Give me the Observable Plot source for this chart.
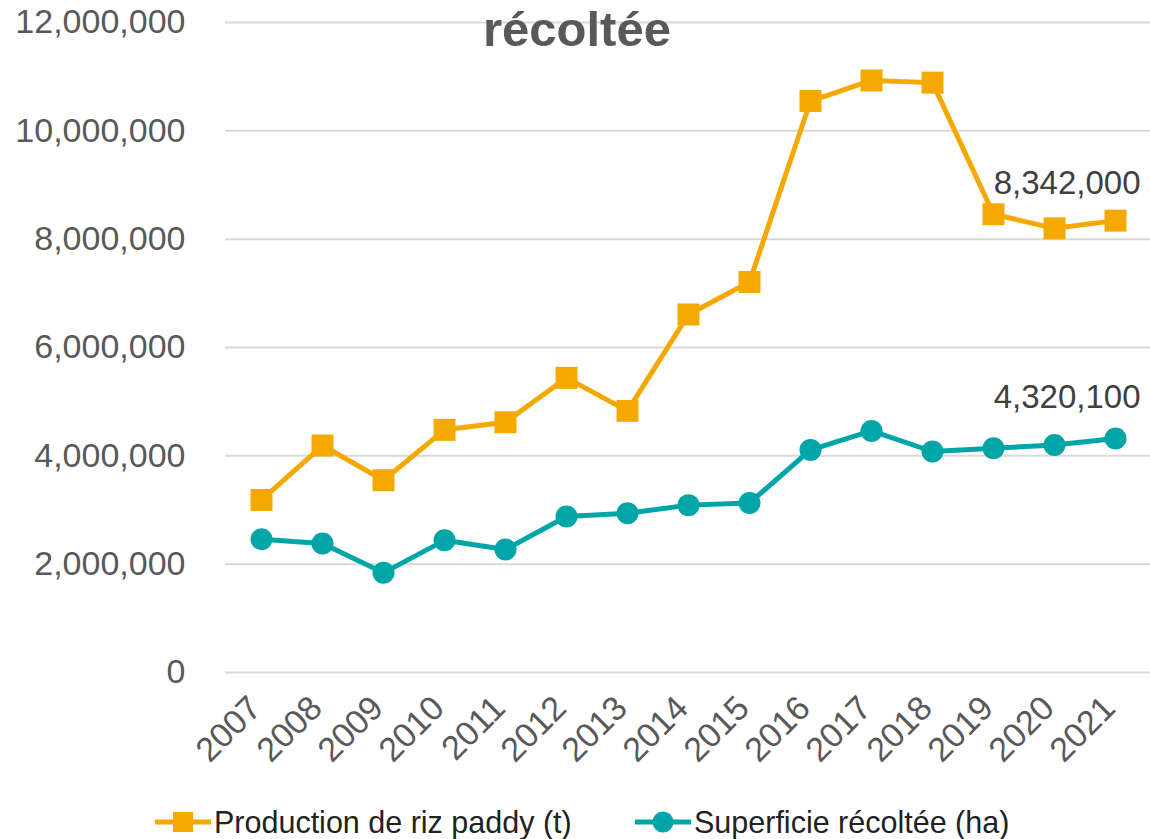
<!DOCTYPE html>
<html>
<head>
<meta charset="utf-8">
<script src="https://cdn.jsdelivr.net/npm/d3@7"></script>
<script src="https://cdn.jsdelivr.net/npm/@observablehq/plot@0.6"></script>
<style>
  html, body { margin: 0; padding: 0; background: #fff; }
  #wrap { position: relative; width: 1150px; height: 839px; font-family: "Liberation Sans", Arial, sans-serif; }
  #title { position: absolute; left: 483px; top: 0px; font-size: 49px; font-weight: bold; color: #595959; line-height: 58px; }
  .leg { position: absolute; top: 802px; display: flex; align-items: center; font-size: 30.5px; color: #222; height: 40px; }
  .leg svg { margin-right: 3px; }
</style>
</head>
<body>
<div id="wrap">
  <div id="chart"></div>
  <div id="title">récoltée</div>
  <div class="leg" style="left:155px">
    <svg width="56" height="30"><line x1="0" y1="15" x2="56" y2="15" stroke="#F5A800" stroke-width="5"/><rect x="18" y="5" width="20" height="20" fill="#F5A800"/></svg>
    <span>Production de riz paddy (t)</span>
  </div>
  <div class="leg" style="left:635px">
    <svg width="56" height="30"><line x1="0" y1="15" x2="56" y2="15" stroke="#00A5A8" stroke-width="5"/><circle cx="28" cy="15" r="10.5" fill="#00A5A8"/></svg>
    <span>Superficie récoltée (ha)</span>
  </div>
</div>
<script>
const years = ["2007","2008","2009","2010","2011","2012","2013","2014","2015","2016","2017","2018","2019","2020","2021"];
const production = [3185000, 4190000, 3550000, 4480000, 4620000, 5440000, 4830000, 6610000, 7210000, 10550000, 10930000, 10890000, 8460000, 8200000, 8342000];
const superficie = [2460000, 2380000, 1840000, 2440000, 2270000, 2880000, 2940000, 3090000, 3130000, 4110000, 4460000, 4080000, 4140000, 4200000, 4320100];
const yTicks = [0, 2000000, 4000000, 6000000, 8000000, 10000000, 12000000];

const orange = "#F5A800";
const teal = "#00A5A8";

const prodRows = years.map((y, i) => ({year: y, value: production[i]}));
const supRows = years.map((y, i) => ({year: y, value: superficie[i]}));
const fmt = d3.format(",");
const lastProd = prodRows.slice(-1);
const lastSup = supRows.slice(-1);

const chart = Plot.plot({
  width: 1150,
  height: 800,
  marginTop: 22,
  marginBottom: 128,
  marginLeft: 225,
  marginRight: 0,
  style: { fontSize: "34px", fontFamily: "'Liberation Sans', Arial, sans-serif", color: "#595959", background: "transparent" },
  x: { type: "point", domain: years, padding: 0.5, label: null },
  y: { domain: [0, 12000000], label: null },
  marks: [
    Plot.ruleY(yTicks, { stroke: "#d9d9d9", strokeWidth: 2 }),
    Plot.axisY({ ticks: yTicks, tickFormat: fmt, tickSize: 0, tickPadding: 40, label: null, fill: "#595959", fontSize: 34 }),
    Plot.axisX({ tickSize: 0, tickPadding: 30, dx: -6, tickRotate: -45, label: null, fill: "#595959", fontSize: 34 }),
    Plot.line(supRows, { x: "year", y: "value", stroke: teal, strokeWidth: 5 }),
    Plot.dot(supRows, { x: "year", y: "value", r: 11, fill: teal, symbol: "circle" }),
    Plot.line(prodRows, { x: "year", y: "value", stroke: orange, strokeWidth: 5 }),
    Plot.dot(prodRows, { x: "year", y: "value", r: 12.4, fill: orange, symbol: "square" }),
    Plot.text(lastProd, { x: "year", y: "value", text: d => fmt(d.value), textAnchor: "end", dx: 25, dy: -37, fill: "#404040", fontSize: 33 }),
    Plot.text(lastSup, { x: "year", y: "value", text: d => fmt(d.value), textAnchor: "end", dx: 25, dy: -41, fill: "#404040", fontSize: 33 })
  ]
});
document.getElementById("chart").appendChild(chart);
</script>
</body>
</html>
